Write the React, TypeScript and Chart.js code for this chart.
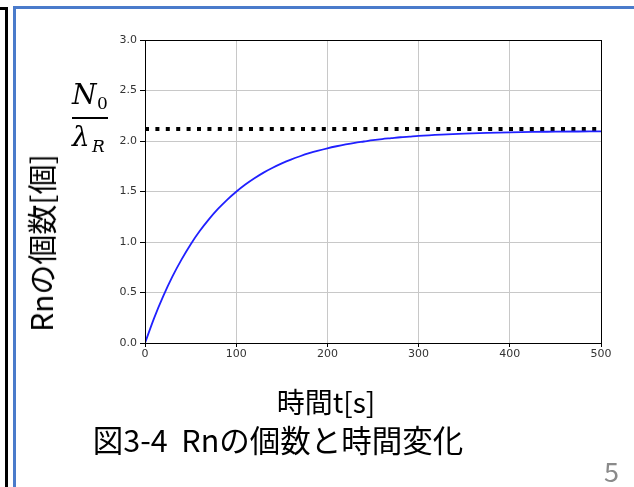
import React, { useEffect, useRef } from "react";
import { Chart, registerables } from "chart.js";

Chart.register(...registerables);

const TIMES = [0, 10, 20, 30, 40, 50, 60, 70, 80, 90, 100, 110, 120, 130, 140, 150, 160, 170, 180, 190, 200, 210, 220, 230, 240, 250, 260, 270, 280, 290, 300, 325, 350, 375, 400, 425, 450, 475, 500];
const COUNTS = [0, 0.247, 0.464, 0.657, 0.826, 0.976, 1.108, 1.224, 1.327, 1.418, 1.498, 1.569, 1.631, 1.687, 1.735, 1.778, 1.816, 1.849, 1.879, 1.905, 1.928, 1.948, 1.966, 1.982, 1.995, 2.008, 2.019, 2.028, 2.037, 2.044, 2.051, 2.064, 2.074, 2.081, 2.086, 2.09, 2.092, 2.094, 2.096];
const LIMIT_X = [0, 500];
const LIMIT_Y = [2.12, 2.12];
const X_TICKS = [0, 100, 200, 300, 400, 500];
const Y_TICKS = [0, 0.5, 1.0, 1.5, 2.0, 2.5, 3.0];

const framePlugin = {
  id: "frame",
  afterDatasetsDraw(chart: any) {
    const { ctx, chartArea } = chart;
    ctx.save();
    ctx.strokeStyle = "#000";
    ctx.lineWidth = 1;
    const l = Math.round(chartArea.left) + 0.5;
    const t = Math.round(chartArea.top) + 0.5;
    const r = Math.round(chartArea.right) + 0.5;
    const b = Math.round(chartArea.bottom) + 0.5;
    ctx.strokeRect(l, t, r - l, b - t);
    ctx.restore();
  },
};

export default function App() {
  const ref = useRef<HTMLCanvasElement>(null);
  useEffect(() => {
    if (!ref.current) return;
    const chart = new Chart(ref.current, {
      type: "line",
      data: {
        datasets: [
          {
            data: TIMES.map((t, i) => ({ x: t, y: COUNTS[i] })),
            borderColor: "#2020ff",
            borderWidth: 1.8,
            pointRadius: 0,
            cubicInterpolationMode: "monotone",
            fill: false,
          },
          {
            data: LIMIT_X.map((t, i) => ({ x: t, y: LIMIT_Y[i] })),
            borderColor: "#000",
            borderWidth: 4,
            borderDash: [4, 6.4],
            borderCapStyle: "butt",
            pointRadius: 0,
            fill: false,
          },
        ],
      },
      options: {
        animation: false,
        responsive: false,
        maintainAspectRatio: false,
        plugins: { legend: { display: false }, tooltip: { enabled: false } },
        layout: { padding: { left: 0, top: 40, right: 33, bottom: 0 } },
        scales: {
          x: {
            type: "linear",
            min: 0,
            max: 500,
            afterFit: (s: any) => { s.height = 144; },
            afterBuildTicks: (s: any) => { s.ticks = X_TICKS.map((v) => ({ value: v })); },
            ticks: { color: "#333", font: { family: "DejaVu Sans", size: 11 }, padding: 1, maxRotation: 0 },
            grid: { color: "#c8c8c8", lineWidth: 1, tickLength: 4, tickColor: "#000" },
            border: { display: false },
          },
          y: {
            type: "linear",
            min: 0,
            max: 3,
            afterFit: (s: any) => { s.width = 145; },
            afterBuildTicks: (s: any) => { s.ticks = Y_TICKS.map((v) => ({ value: v })); },
            ticks: { color: "#333", font: { family: "DejaVu Sans", size: 11 }, padding: 3, callback: (v: any) => Number(v).toFixed(1) },
            grid: { color: "#c8c8c8", lineWidth: 1, tickLength: 5, tickColor: "#000" },
            border: { display: false },
          },
        },
      },
      plugins: [framePlugin],
    } as any);
    return () => chart.destroy();
  }, []);

  const cjk = "'Noto Sans CJK JP', 'Noto Sans', sans-serif";
  const serif = "'DejaVu Serif', serif";
  return (
    <div style={{ position: "fixed", left: 0, top: 0, width: 634, height: 487, background: "#fff", overflow: "hidden" }}>
      {/* previous box corner */}
      <div style={{ position: "absolute", left: 0, top: 7, width: 8, height: 3, background: "#000" }} />
      <div style={{ position: "absolute", left: 5, top: 7, width: 2.5, height: 480, background: "#000" }} />
      {/* blue frame */}
      <div style={{ position: "absolute", left: 13, top: 6, width: 621, height: 2.8, background: "#4a7bcb" }} />
      <div style={{ position: "absolute", left: 13, top: 6, width: 2.8, height: 481, background: "#4a7bcb" }} />
      <canvas ref={ref} width={634} height={487} style={{ position: "absolute", left: 0, top: 0, display: "block" }} />
      {/* N0 / lambda_R */}
      <div style={{ position: "absolute", left: 72, top: 78, fontFamily: serif, fontStyle: "italic", fontSize: 28, lineHeight: "34px", color: "#000" }}>N</div>
      <div style={{ position: "absolute", left: 97, top: 93, fontFamily: serif, fontSize: 17, lineHeight: "20px", color: "#000" }}>0</div>
      <div style={{ position: "absolute", left: 72, top: 116.5, width: 36, height: 2.6, background: "#000" }} />
      <div style={{ position: "absolute", left: 72, top: 120, fontFamily: serif, fontStyle: "italic", fontSize: 28, lineHeight: "34px", color: "#000" }}>λ</div>
      <div style={{ position: "absolute", left: 92, top: 136, fontFamily: serif, fontStyle: "italic", fontSize: 17, lineHeight: "20px", color: "#000" }}>R</div>
      {/* y title */}
      <div style={{ position: "absolute", left: 40, top: 243, transform: "translate(-50%, -50%) rotate(-90deg)", whiteSpace: "nowrap", fontFamily: cjk, fontSize: 30, lineHeight: "34px", color: "#000" }}>Rnの個数[個]</div>
      {/* x title */}
      <div style={{ position: "absolute", left: 326, top: 401, transform: "translate(-50%, -50%)", whiteSpace: "nowrap", fontFamily: cjk, fontSize: 28, lineHeight: "34px", color: "#000" }}>時間t[s]</div>
      {/* caption */}
      <div style={{ position: "absolute", left: 278, top: 439, transform: "translate(-50%, -50%)", whiteSpace: "pre", fontFamily: cjk, fontSize: 30.5, lineHeight: "36px", color: "#000" }}>図3-4  Rnの個数と時間変化</div>
      {/* page number */}
      <div style={{ position: "absolute", left: 604, top: 455, fontFamily: cjk, fontSize: 27, lineHeight: "32px", color: "#8a8a8a" }}>5</div>
    </div>
  );
}
